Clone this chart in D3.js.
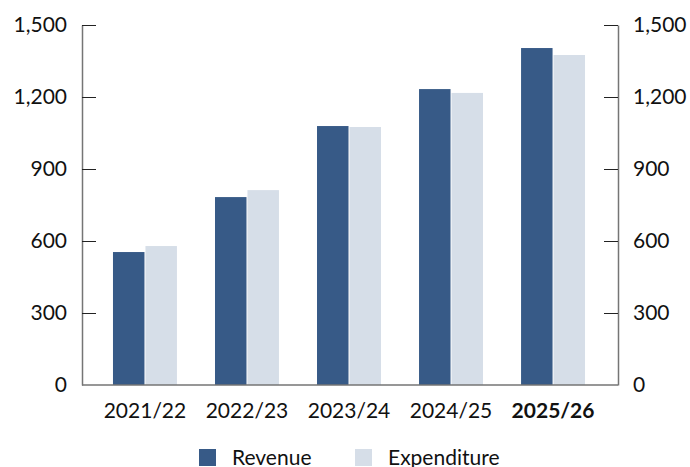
<!DOCTYPE html>
<html>
<head>
<meta charset="utf-8">
<script src="https://cdn.jsdelivr.net/npm/d3@7"></script>
<style>
  html, body { margin: 0; padding: 0; background: #fff; }
  svg { display: block; font-family: Lato, "Open Sans", sans-serif; }
</style>
</head>
<body>
<svg id="chart" width="690" height="467"></svg>
<script>
// Yearly revenue vs expenditure
const years = ["2021/22", "2022/23", "2023/24", "2024/25", "2025/26"];
const revenue = [554, 783, 1079, 1233, 1404];
const expenditure = [579, 812, 1075, 1217, 1375];
const yTicks = [0, 300, 600, 900, 1200, 1500];
const seriesNames = ["Revenue", "Expenditure"];
const seriesColors = ["#375a87", "#d6dee8"];
const highlightYear = "2025/26";

const svg = d3.select("#chart");
const plotLeft = 82, plotRight = 618, plotTop = 25, plotBottom = 385;
const fontSize = 21;

const y = d3.scaleLinear().domain([0, 1500]).range([plotBottom, plotTop]);
const x0 = d3.scaleBand().domain(years).range([94, 604]).paddingInner(0.373).paddingOuter(0.186);
const x1 = d3.scaleBand().domain(seriesNames).range([0, x0.bandwidth()]).paddingInner(0.03);

const table = years.map((yr, i) => ({ year: yr, values: [revenue[i], expenditure[i]] }));

// Bars
const groups = svg.append("g").selectAll("g").data(table).join("g")
  .attr("transform", d => `translate(${x0(d.year)},0)`);
groups.selectAll("rect").data(d => d.values.map((v, j) => ({ name: seriesNames[j], v, j })))
  .join("rect")
  .attr("x", d => x1(d.name))
  .attr("width", x1.bandwidth())
  .attr("y", d => y(d.v))
  .attr("height", d => y(0) - y(d.v))
  .attr("fill", d => seriesColors[d.j]);

// Axes
const fmt = d3.format(",");
const axisColor = "#757575";
const leftAxis = svg.append("g").attr("transform", `translate(${plotLeft},0)`)
  .call(d3.axisRight(y).tickValues(yTicks).tickFormat("").tickSize(14).tickSizeOuter(0));
const rightAxis = svg.append("g").attr("transform", `translate(${plotRight},0)`)
  .call(d3.axisLeft(y).tickValues(yTicks).tickFormat("").tickSize(14).tickSizeOuter(0));
[leftAxis, rightAxis].forEach(a => {
  a.select(".domain").attr("stroke", axisColor).attr("stroke-width", 1.5);
  a.selectAll(".tick line").attr("stroke", "#222").attr("stroke-width", 1);
  a.selectAll(".tick").filter(d => d === 0).select("line").remove();
});

// Tick labels
svg.append("g").selectAll("text").data(yTicks).join("text")
  .attr("x", 67).attr("y", d => y(d)).attr("dy", "0.35em")
  .attr("text-anchor", "end").attr("font-size", fontSize).attr("fill", "#111")
  .text(d => fmt(d));
svg.append("g").selectAll("text").data(yTicks).join("text")
  .attr("x", 633).attr("y", d => y(d)).attr("dy", "0.35em")
  .attr("text-anchor", "start").attr("font-size", fontSize).attr("fill", "#111")
  .text(d => fmt(d));

// Baseline
svg.append("line").attr("x1", plotLeft).attr("x2", plotRight).attr("y1", plotBottom).attr("y2", plotBottom)
  .attr("stroke", axisColor).attr("stroke-width", 1.5);

// Category labels
svg.append("g").selectAll("text").data(years).join("text")
  .attr("x", d => x0(d) + x0.bandwidth() / 2).attr("y", 418)
  .attr("text-anchor", "middle").attr("font-size", fontSize).attr("fill", "#111")
  .attr("font-weight", d => d === highlightYear ? "bold" : "normal")
  .text(d => d);

// Legend
const legendX = [199, 355];
const legend = svg.append("g").selectAll("g").data(seriesNames).join("g")
  .attr("transform", (d, i) => `translate(${legendX[i]},449)`);
legend.append("rect").attr("width", 17).attr("height", 17).attr("fill", (d, i) => seriesColors[i]);
legend.append("text").attr("x", 33).attr("y", 16).attr("font-size", fontSize).attr("fill", "#111").text(d => d);
</script>
</body>
</html>
